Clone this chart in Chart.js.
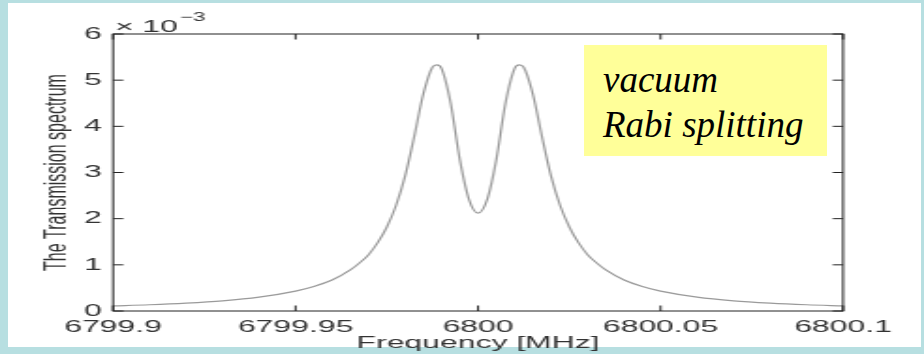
<!DOCTYPE html>
<html>
<head>
<meta charset="utf-8">
<script src="https://cdn.jsdelivr.net/npm/chart.js"></script>
<style>
  html, body { margin: 0; padding: 0; }
  body { width: 924px; height: 354px; background: #b7dfe1; position: relative; overflow: hidden; }
  #panel { position: absolute; left: 8px; top: 3px; width: 913px; height: 344px; background: #fff; }
  #plot { position: absolute; left: 0; top: 0; width: 492px; height: 354px;
          transform: scaleX(1.878); transform-origin: 0 0; }
  #note { position: absolute; left: 584px; top: 45px; width: 224px; height: 99px;
          padding: 12px 0 0 19px; background: #ffff99;
          font-family: "Liberation Serif", "Times New Roman", "DejaVu Serif", serif; font-style: italic;
          font-size: 37px; line-height: 45px; color: #000; }
</style>
</head>
<body>
<div id="panel"></div>
<canvas id="plot" width="492" height="354"></canvas>
<div id="note">vacuum<br>Rabi splitting</div>
<script>
// frequency in MHz, transmission in units of 1e-3
const freqMHz = [
  6799.9, 6799.91, 6799.92, 6799.93, 6799.94, 6799.95, 6799.955, 6799.96, 6799.965,
  6799.9675, 6799.97, 6799.9725, 6799.975, 6799.9775, 6799.98, 6799.9825, 6799.985,
  6799.9875, 6799.9887, 6799.99, 6799.9925, 6799.995, 6799.9975, 6800,
  6800.0025, 6800.005, 6800.0075, 6800.01, 6800.0113, 6800.0125, 6800.015, 6800.0175,
  6800.02, 6800.0225, 6800.025, 6800.0275, 6800.03, 6800.0325, 6800.035, 6800.04,
  6800.045, 6800.05, 6800.06, 6800.07, 6800.08, 6800.09, 6800.1
];
const transmission = [
  0.11, 0.135, 0.17, 0.22, 0.30, 0.43, 0.53, 0.67, 0.89,
  1.04, 1.22, 1.48, 1.82, 2.28, 2.92, 3.78, 4.70,
  5.28, 5.33, 5.25, 4.50, 3.28, 2.42, 2.12,
  2.42, 3.28, 4.50, 5.25, 5.33, 5.28, 4.70, 3.78,
  2.92, 2.28, 1.82, 1.48, 1.22, 1.04, 0.89, 0.67,
  0.53, 0.43, 0.30, 0.22, 0.17, 0.135, 0.11
];
const xTicks = [6799.9, 6799.95, 6800, 6800.05, 6800.1];
const xTickLabels = ["6799.9", "6799.95", "6800", "6800.05", "6800.1"];
const yTickLabels = ["0", "1", "2", "3", "4", "5", "6"];

const sans = '"Liberation Sans", Arial, Helvetica, sans-serif';
const tickLen = 5.5;

// box round the axes with MATLAB style inward ticks, plus the x 10^-3 note
const framePlugin = {
  id: "frame",
  afterDatasetsDraw(chart) {
    const { ctx, chartArea: a, scales } = chart;
    ctx.save();
    ctx.strokeStyle = "#222";
    ctx.lineWidth = 1;
    ctx.strokeRect(a.left, a.top, a.right - a.left, a.bottom - a.top);
    ctx.beginPath();
    scales.x.ticks.forEach(t => {
      const px = scales.x.getPixelForValue(t.value);
      ctx.moveTo(px, a.bottom); ctx.lineTo(px, a.bottom - tickLen);
      ctx.moveTo(px, a.top); ctx.lineTo(px, a.top + tickLen);
    });
    scales.y.ticks.forEach(t => {
      const py = scales.y.getPixelForValue(t.value);
      ctx.moveTo(a.left, py); ctx.lineTo(a.left + tickLen, py);
      ctx.moveTo(a.right, py); ctx.lineTo(a.right - tickLen, py);
    });
    ctx.stroke();
    ctx.fillStyle = "#333";
    ctx.textBaseline = "alphabetic";
    ctx.font = "17px " + sans;
    ctx.fillText("\u00d7 10", a.left + 1, a.top - 2);
    const w = ctx.measureText("\u00d7 10").width;
    ctx.font = "12px " + sans;
    ctx.fillText("\u22123", a.left + 1 + w + 1, a.top - 13);
    ctx.restore();
  }
};

new Chart(document.getElementById("plot"), {
  type: "line",
  data: {
    datasets: [{
      data: freqMHz.map((f, i) => ({ x: f, y: transmission[i] })),
      borderColor: "#9a9a9a",
      borderWidth: 1.2,
      pointRadius: 0,
      cubicInterpolationMode: "monotone",
      fill: false
    }]
  },
  options: {
    responsive: false,
    animation: false,
    devicePixelRatio: 1,
    layout: { padding: { left: 0, right: 43.1, top: 34, bottom: 0 } },
    plugins: { legend: { display: false }, tooltip: { enabled: false } },
    scales: {
      x: {
        type: "linear",
        min: 6799.9,
        max: 6800.1,
        afterBuildTicks: s => { s.ticks = xTicks.map(v => ({ value: v })); },
        afterFit: s => { s.height = 43; },
        grid: { display: false, drawTicks: false },
        border: { display: false },
        ticks: {
          padding: 6,
          maxRotation: 0,
          color: "#333",
          font: { family: sans, size: 17 },
          callback: (v, i) => xTickLabels[i]
        },
        title: {
          display: true,
          text: "Frequency [MHz]",
          color: "#333",
          font: { family: sans, size: 17 },
          padding: { top: 0, bottom: 0 }
        }
      },
      y: {
        min: 0,
        max: 6,
        afterFit: s => { s.width = 60.2; },
        grid: { display: false, drawTicks: false },
        border: { display: false },
        ticks: {
          stepSize: 1,
          padding: 6,
          color: "#333",
          font: { family: sans, size: 17 },
          callback: (v) => yTickLabels[v]
        },
        title: {
          display: true,
          text: "The Transmission spectrum",
          color: "#333",
          font: { family: sans, size: 16 },
          padding: { top: 21, bottom: 0 }
        }
      }
    }
  },
  plugins: [framePlugin]
});
</script>
</body>
</html>
